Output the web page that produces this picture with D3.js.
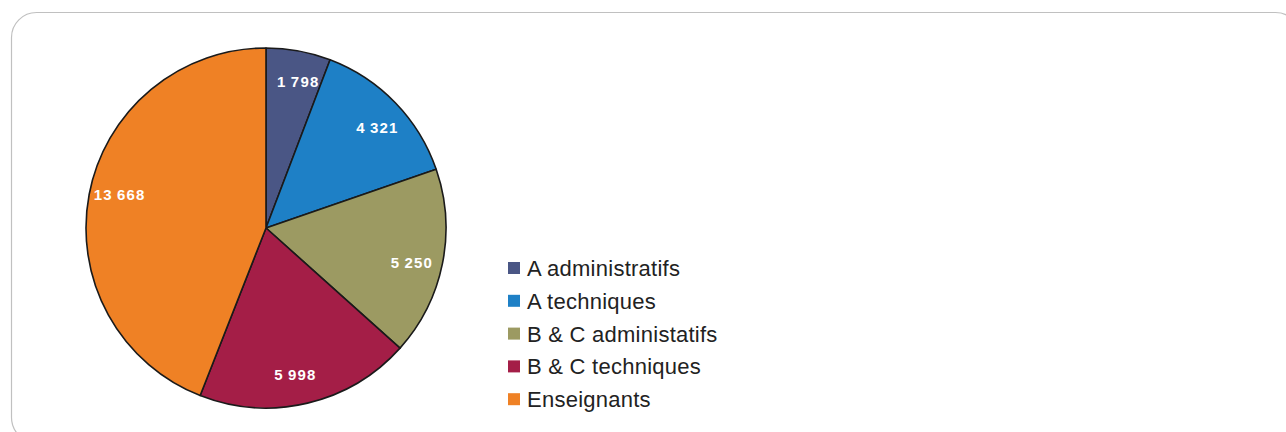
<!DOCTYPE html>
<html><head><meta charset="utf-8">
<script src="https://cdn.jsdelivr.net/npm/d3@7"></script>
<style>body{margin:0;background:#fff}svg{display:block}</style>
</head><body>
<svg id="c" width="1286" height="432"></svg>
<script>
const categories = ["A administratifs","A techniques","B & C administatifs","B & C techniques","Enseignants"];
const values = [1798, 4321, 5250, 5998, 13668];
const labels = ["1\u2009798","4\u2009321","5\u2009250","5\u2009998","13\u2009668"];
const colors = ["#4a5685","#1e80c6","#9c9a62","#a41e47","#ef8125"];

const svg = d3.select("#c");
svg.append("rect").attr("x",11.5).attr("y",12.5).attr("width",1289).attr("height",430)
  .attr("rx",25).attr("fill","#fff").attr("stroke","#c0c0c0").attr("stroke-width",1.2);

const cx = 266, cy = 228, R = 180;
const g = svg.append("g").attr("transform",`translate(${cx},${cy})`);
const pie = d3.pie().sort(null).value(d=>d);
const arcs = pie(values);
const arc = d3.arc().innerRadius(0).outerRadius(R);
const off = 2*Math.PI/180;
const lab = d3.arc().innerRadius(150).outerRadius(150);
g.selectAll("path").data(arcs).join("path")
  .attr("d",arc).attr("fill",(d,i)=>colors[i]).attr("stroke","#1a1a1a").attr("stroke-width",1.6).attr("stroke-linejoin","round");
g.selectAll("text").data(arcs).join("text")
  .attr("transform",d=>`translate(${lab.centroid({startAngle:d.startAngle+off,endAngle:d.endAngle+off})})`)
  .attr("text-anchor","middle").attr("dy","0.36em")
  .attr("fill","#fff").attr("font-family","Liberation Sans, Arial, sans-serif")
  .attr("font-weight","bold").attr("font-size",15).attr("letter-spacing",1.2)
  .text((d,i)=>labels[i]);

const leg = svg.append("g").attr("transform","translate(508,268)");
const items = leg.selectAll("g").data(categories).join("g")
  .attr("transform",(d,i)=>`translate(0,${i*32.8})`);
items.append("rect").attr("x",0).attr("y",-6).attr("width",12).attr("height",12).attr("fill",(d,i)=>colors[i]);
items.append("text").attr("x",19).attr("dy","0.36em").attr("fill","#222")
  .attr("font-family","Liberation Sans, Arial, sans-serif").attr("font-size",22).attr("letter-spacing",0.25).text(d=>d);
</script>
</body></html>
